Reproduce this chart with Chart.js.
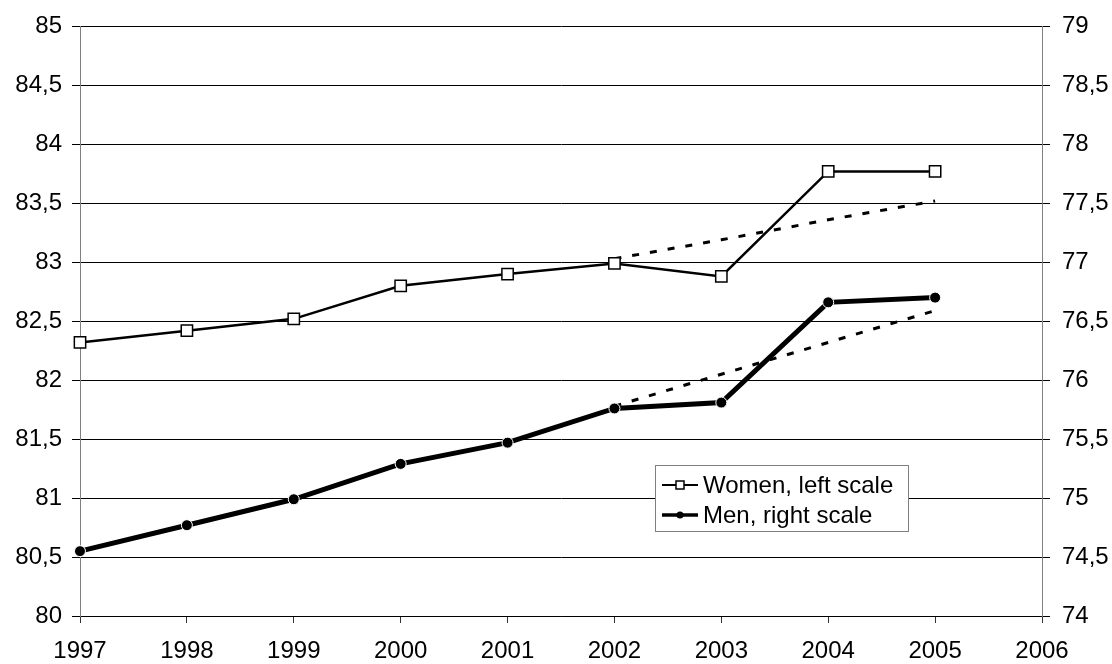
<!DOCTYPE html>
<html>
<head>
<meta charset="utf-8">
<script src="https://cdn.jsdelivr.net/npm/chart.js@4/dist/chart.umd.min.js"></script>
<style>
  body { margin: 0; background: #fff; }
  #wrap { width: 1112px; height: 664px; }
</style>
</head>
<body>
<div id="wrap"><canvas id="lifeChart"></canvas></div>
<script>
const years = ['1997', '1998', '1999', '2000', '2001', '2002', '2003', '2004', '2005', '2006'];
const women = [82.32, 82.42, 82.52, 82.80, 82.90, 82.99, 82.88, 83.77, 83.77];
const men = [74.55, 74.77, 74.99, 75.29, 75.47, 75.76, 75.81, 76.66, 76.70];
const womenTrend = [null, null, null, null, null, 83.03, 83.19, 83.36, 83.52];
const menTrend = [null, null, null, null, null, 75.78, 76.05, 76.32, 76.59];

const FONT = '"Liberation Sans", Arial, sans-serif';
const commaFmt = v => String(v).replace('.', ',');

// legend box drawn inside the plot, like the original
const boxLegend = {
    id: 'boxLegend',
    afterDraw(chart) {
        const ctx = chart.ctx;
        const items = chart.data.datasets.filter(d => d.showInLegend);
        const x0 = 655, y0 = 465, w = 253, rowH = 30;
        ctx.save();
        ctx.fillStyle = '#fff';
        ctx.strokeStyle = '#808080';
        ctx.lineWidth = 1;
        ctx.fillRect(x0, y0, w, rowH * items.length + 6);
        ctx.strokeRect(x0 + 0.5, y0 + 0.5, w, rowH * items.length + 6);
        ctx.font = '24px ' + FONT;
        ctx.textBaseline = 'middle';
        items.forEach((d, i) => {
            const cy = y0 + 20 + i * rowH;
            ctx.strokeStyle = '#000';
            ctx.lineWidth = d.borderWidth > 3 ? 3.5 : 2;
            ctx.beginPath();
            ctx.moveTo(662, cy);
            ctx.lineTo(698, cy);
            ctx.stroke();
            if (d.pointStyle === 'rect') {
                ctx.fillStyle = '#fff';
                ctx.lineWidth = 1.5;
                ctx.fillRect(676, cy - 4, 8, 8);
                ctx.strokeRect(676, cy - 4, 8, 8);
            } else {
                ctx.fillStyle = '#000';
                ctx.beginPath();
                ctx.arc(680, cy, 3.5, 0, Math.PI * 2);
                ctx.fill();
            }
            ctx.fillStyle = '#000';
            ctx.fillText(d.label, 703, cy + 1);
        });
        ctx.restore();
    }
};

const ctx = document.getElementById('lifeChart').getContext('2d');

new Chart(ctx, {
    type: 'line',
    data: {
        labels: years,
        datasets: [
            {
                label: 'Women, left scale',
                showInLegend: true,
                data: women,
                yAxisID: 'yL',
                borderColor: '#000',
                borderWidth: 2.5,
                pointStyle: 'rect',
                pointRadius: 8,
                pointBackgroundColor: '#fff',
                pointBorderColor: '#000',
                pointBorderWidth: 1.5,
                tension: 0
            },
            {
                label: 'Men, right scale',
                showInLegend: true,
                data: men,
                yAxisID: 'yR',
                borderColor: '#000',
                borderWidth: 5,
                pointStyle: 'circle',
                pointRadius: 5.5,
                pointBackgroundColor: '#000',
                pointBorderColor: '#fff',
                pointBorderWidth: 1,
                tension: 0
            },
            {
                label: 'Women trend',
                data: womenTrend,
                yAxisID: 'yL',
                borderColor: '#000',
                borderWidth: 3,
                borderDash: [7, 11],
                pointRadius: 0,
                tension: 0
            },
            {
                label: 'Men trend',
                data: menTrend,
                yAxisID: 'yR',
                borderColor: '#000',
                borderWidth: 3,
                borderDash: [7, 11],
                pointRadius: 0,
                tension: 0
            }
        ]
    },
    options: {
        responsive: true,
        maintainAspectRatio: false,
        animation: false,
        layout: { padding: { top: 26, left: 0, right: 0, bottom: 0 } },
        plugins: {
            legend: { display: false },
            tooltip: { enabled: false }
        },
        scales: {
            x: {
                offset: false,
                grid: { display: true, drawOnChartArea: false, drawTicks: true, tickLength: 7, color: '#333', offset: false },
                border: { color: '#000' },
                ticks: { color: '#000', font: { family: FONT, size: 24 }, padding: 14, maxRotation: 0, autoSkip: false },
                afterFit(scale) { scale.height = 48; }
            },
            yL: {
                position: 'left',
                min: 80,
                max: 85,
                grid: { color: '#000', lineWidth: 1, tickLength: 8 },
                border: { color: '#808080' },
                ticks: { stepSize: 0.5, color: '#000', font: { family: FONT, size: 24 }, padding: 10, callback: commaFmt },
                afterFit(scale) { scale.width = 80; }
            },
            yR: {
                position: 'right',
                min: 74,
                max: 79,
                grid: { drawOnChartArea: false, color: '#000', tickLength: 8 },
                border: { color: '#808080' },
                ticks: { stepSize: 0.5, color: '#000', font: { family: FONT, size: 24 }, padding: 12, callback: commaFmt },
                afterFit(scale) { scale.width = 70; }
            }
        }
    },
    plugins: [boxLegend]
});
</script>
</body>
</html>
